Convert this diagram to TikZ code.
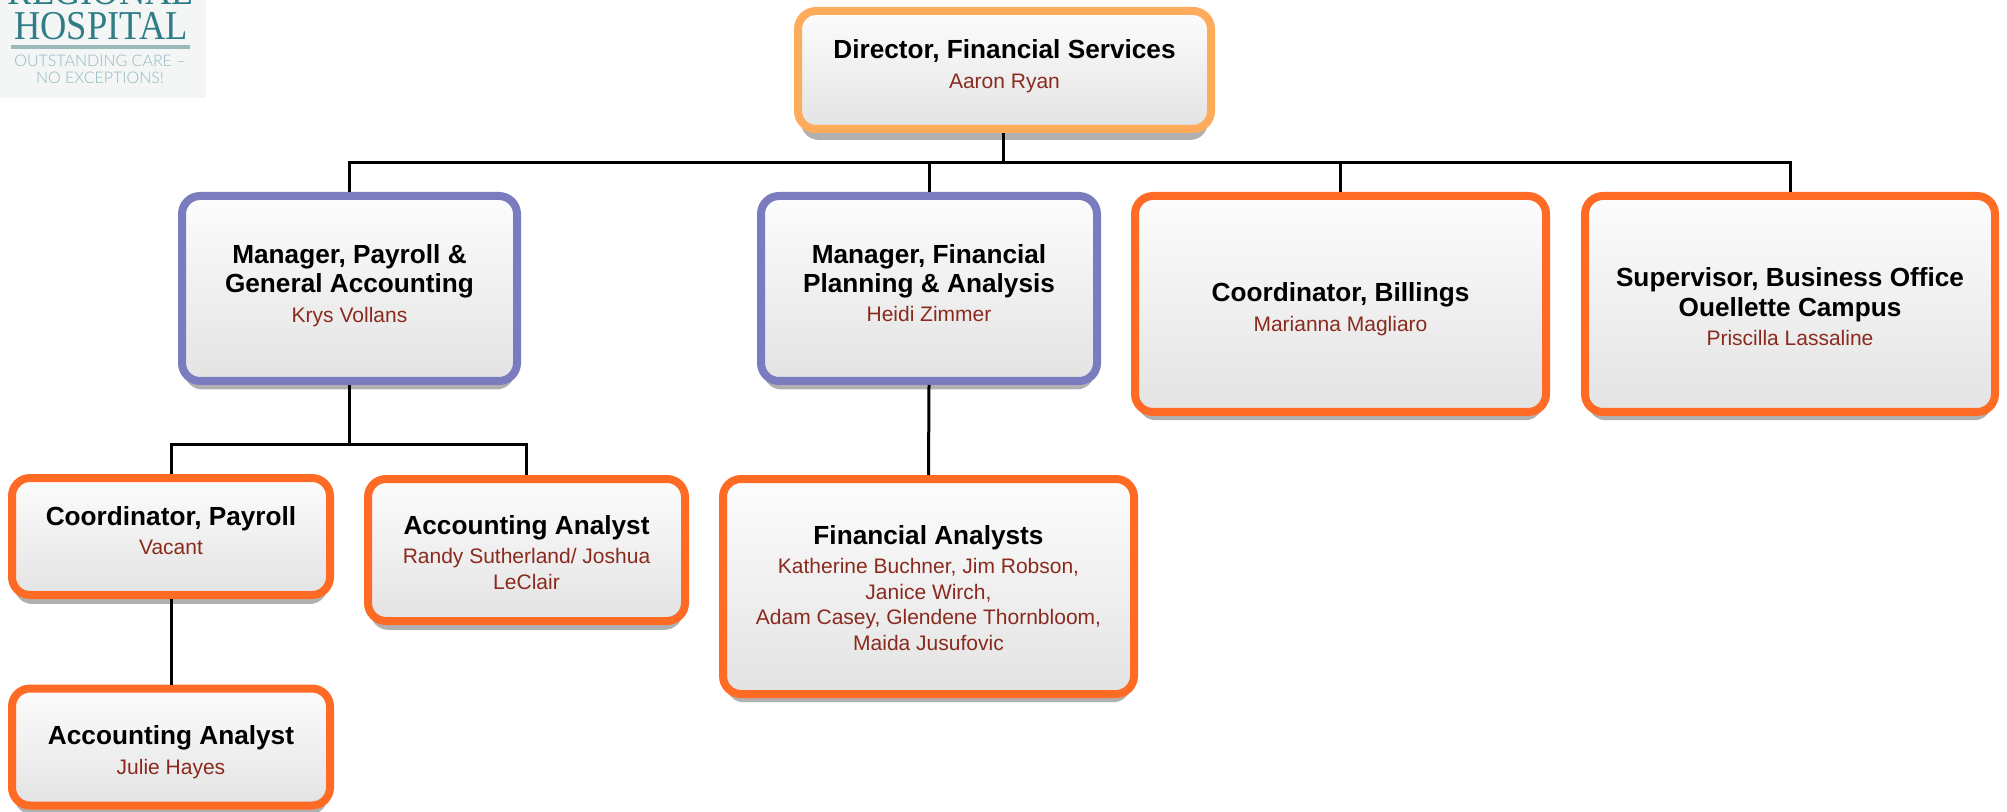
\documentclass[tikz,border=0pt]{standalone}
\usepackage{fontspec}
\setmainfont{Liberation Sans}
\newfontfamily\logoserif[FakeStretch=0.89]{Liberation Serif}
\newfontfamily\logosans{Lato Light}
\usetikzlibrary{shadows}
\definecolor{lineorange}{HTML}{FF6B24}
\definecolor{linepeach}{HTML}{FFAB5C}
\definecolor{linepurple}{HTML}{7B7BBF}
\definecolor{namered}{HTML}{8A2A1E}
\definecolor{logoteal}{HTML}{2E7D87}
\definecolor{logopale}{HTML}{8FB8BD}
\definecolor{logorule}{HTML}{9ABABA}
\definecolor{logoback}{HTML}{F4F6F6}
\newcommand{\posttitle}[1]{{\bfseries\fontsize{13.1}{12.7}\selectfont #1}}
\newcommand{\staffname}[1]{{\color{namered}#1}}
% struts that push the text of a box down or up
\newcommand{\padtop}[1]{\rule{0pt}{#1}}
\newcommand{\padbot}[1]{\rule[-#1]{0pt}{0pt}}
\tikzset{
  postbox/.style={draw=lineorange,line width=4pt,rounded corners=9pt,top color=white!99!black,
    bottom color=black!11,align=center,text=black,inner sep=0pt,
    font=\fontsize{10.5}{12.7}\selectfont,
    drop shadow={shadow xshift=0pt,shadow yshift=-5pt,shadow scale=0.985,fill=black!31,opacity=1}},
  topbox/.style={postbox,draw=linepeach,drop shadow={shadow xshift=0pt,shadow yshift=-6pt,shadow scale=0.985,fill=black!31,opacity=1}},
  managerbox/.style={postbox,draw=linepurple},
  logotext/.style={text=logoteal,font=\logoserif\fontsize{20.5}{22}\selectfont,anchor=base,inner sep=0pt},
  logosmall/.style={text=logopale,font=\logosans\fontsize{8}{9}\selectfont,anchor=base,inner sep=0pt},
  link/.style={line width=1.5pt,black}
}
\begin{document}
\begin{tikzpicture}[x=0.5pt,y=0.5pt]
        \useasboundingbox (0,0) rectangle (2007,-812);
        % Logo
        \fill[logoback] (0,0) rectangle (206,-98);
        \begin{scope}
          \clip (0,0) rectangle (206,-98);
          \node[logotext] (logotop) at (101,-5) {REGIONAL};
          \node[logotext] (logomain) at (101,-40) {HOSPITAL};
          \fill[logorule] (11,-45) rectangle (190,-49);
          \node[logosmall] (logoline) at (100,-67) {OUTSTANDING CARE \textendash};
          \node[logosmall] (logoend) at (100,-84) {NO EXCEPTIONS!};
        \end{scope}

        % Top level
        \node[topbox,minimum width=206.5pt,minimum height=59pt] (director) at (1004.5,-70)
          {\posttitle{Director, Financial Services}\\[2pt]\staffname{Aaron Ryan}\padbot{6.1pt}};

        % Second level
        \node[managerbox,minimum width=167.5pt,minimum height=92.5pt] (payroll) at (349.5,-288.5)
          {\posttitle{Manager, Payroll \&}\\[2pt]\posttitle{General Accounting}\\[2pt]\staffname{Krys Vollans}\padbot{5pt}};
        \node[managerbox,minimum width=168pt,minimum height=92.5pt] (planning) at (929,-288.5)
          {\posttitle{Manager, Financial}\\[2pt]\posttitle{Planning \& Analysis}\\[2pt]\staffname{Heidi Zimmer}\padbot{5.5pt}};
        \node[postbox,minimum width=205.5pt,minimum height=108pt] (billings) at (1340.5,-304)
          {\padtop{14.6pt}\posttitle{Coordinator, Billings}\\[2pt]\staffname{Marianna Magliaro}};
        \node[postbox,minimum width=205pt,minimum height=108pt] (business) at (1790,-304)
          {\padtop{12.5pt}\posttitle{Supervisor, Business Office}\\[2pt]\posttitle{Ouellette Campus}\\[2pt]\staffname{Priscilla Lassaline}};

        % Third level
        \node[postbox,minimum width=159pt,minimum height=58.5pt] (coordpay) at (171,-536.5)
          {\posttitle{Coordinator, Payroll}\\[2pt]\staffname{Vacant}\padbot{6pt}};
        \node[postbox,minimum width=158.5pt,minimum height=71pt] (analyst) at (526.5,-550)
          {\padtop{12pt}\posttitle{Accounting Analyst}\\[2pt]\staffname{Randy Sutherland/ Joshua}\\\staffname{LeClair}};
        \node[postbox,minimum width=205.5pt,minimum height=107.5pt] (finance) at (928.5,-586.5)
          {\padtop{11pt}\posttitle{Financial Analysts}\\[2pt]\staffname{Katherine Buchner, Jim Robson,}\\\staffname{Janice Wirch,}\\\staffname{Adam Casey, Glendene Thornbloom,}\\\staffname{Maida Jusufovic}};

        % Fourth level
        \node[postbox,minimum width=159pt,minimum height=58.5pt] (hayes) at (171,-747)
          {\padtop{14.6pt}\posttitle{Accounting Analyst}\\[2pt]\staffname{Julie Hayes}};

        % Connectors
        \coordinate (topbus) at (1003.5,-163);
        \coordinate (paybus) at (349.5,-444);
        \draw[link] (director.south -| topbus) -- (topbus);
        \draw[link] (payroll.north) |- (topbus);
        \draw[link] (planning.north) |- (topbus);
        \draw[link] (billings.north) |- (topbus);
        \draw[link] (business.north) |- (topbus);
        \draw[link] (payroll.south) -- (paybus);
        \draw[link] (coordpay.north) |- (paybus);
        \draw[link] (analyst.north) |- (paybus);
        \draw[link] (planning.south) -- (finance.north);
        \draw[link] (coordpay.south) -- (hayes.north);
      \end{tikzpicture}
\end{document}
